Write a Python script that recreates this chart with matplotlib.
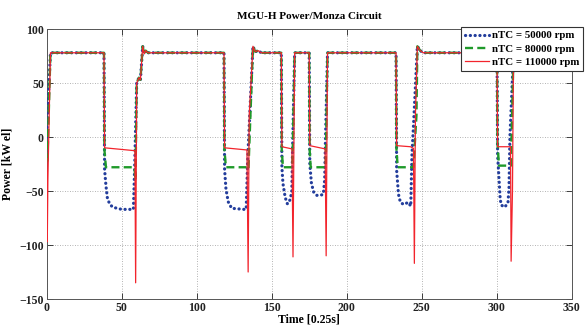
import matplotlib
matplotlib.use("Agg")
import matplotlib.pyplot as plt

# MGU-H electrical power over one Monza lap, for three turbocharger speeds
t_50k = [0, 2.5, 38.2, 38.6, 39.5, 40.5, 42, 44, 47, 50, 57.8, 58.6, 59.3, 60, 61.5, 62.5, 64, 65, 66, 67.5,
         118.2, 118.6, 119.5, 121, 123.3, 131.5, 133, 134, 137.5, 139, 141, 143,
         156.4, 156.8, 157.5, 159, 160.5, 162.3, 163.4, 164, 165.3,
         175, 175.4, 176.5, 178, 180, 182.5, 184.4, 185.3, 185.8, 187.2,
         232.9, 233.3, 234.5, 235.8, 238, 241, 242.7, 243.5, 244.5, 247.1, 249, 251,
         300.2, 300.6, 301.5, 302.3, 303, 305.3, 307.5, 308.2, 308.8, 311.2, 312]
p_50k = [0, 78, 78, -30, -45, -57, -62, -65, -66, -67, -67, -30, 10, 50, 55, 53, 84, 77, 80, 78,
         78, -30, -48, -60, -66, -67, -67, -20, 84, 79, 80, 78,
         78, -28, -43, -56, -62, -58, -50, -5, 78,
         78, -25, -43, -51, -54, -54, -53, -40, -5, 78,
         78, -31, -53, -60.5, -62.5, -60.5, -64, -16, 10, 84, 80, 78,
         78, -17, -38, -57, -63, -65, -61, -47, 0, 78, 78]

t_80k = [0, 0.5, 2.5, 38.2, 38.5, 39.5, 58.5, 59.2, 60, 61.5, 62.5, 64, 65, 66, 67.5,
         118.2, 118.5, 119.5, 133.5, 134.5, 137.5, 139, 141, 143,
         156.4, 156.7, 157.5, 163.8, 165.3,
         175, 175.3, 176, 186, 187.2,
         232.9, 233.2, 234, 244.5, 246.5, 247.1, 249, 251,
         300.2, 300.5, 301.5, 309.5, 311.2, 312]
p_80k = [-22, -22, 78, 78, -12, -28, -28, -40, 50, 55, 53, 84, 77, 80, 78,
         78, -12, -28, -28, -30, 84, 79, 80, 78,
         78, -12, -28, -28, 78,
         78, -12, -28, -28, 78,
         78, -12, -28, -28, 20, 84, 80, 78,
         78, -5, -26.5, -26.5, 78, 78]

t_110k = [0, 0.4, 0.8, 2.5,
          38.2, 38.6, 57.5, 58.8, 59.3, 60, 61.5, 62.5, 64, 65, 66, 67.5,
          118.2, 118.6, 133.5, 134.3, 135, 137.5, 139, 141, 143,
          156.4, 156.8, 163.5, 164.2, 165.3,
          175, 175.4, 185.6, 186.3, 187.2,
          232.9, 233.3, 242.5, 244.5, 245.1, 245.8, 247.1, 249, 251,
          300.2, 300.6, 309.2, 309.6, 310.5, 311.2, 312]
p_110k = [-20, -97, -40, 78,
          78, -10, -12.5, -12.5, -135, 50, 55, 53, 84, 77, 80, 78,
          78, -10, -12, -125, 20, 84, 79, 80, 78,
          78, -9, -11, -111, 78,
          78, -8, -11, -110, 78,
          78, -8, -9, -10.5, -117, 20, 84, 80, 78,
          78, -9, -9, -115, -50, 78, 78]

labels = ["nTC = 50000 rpm", "nTC = 80000 rpm", "nTC = 110000 rpm"]
x_ticks = [0, 50, 100, 150, 200, 250, 300, 350]
y_ticks = [-150, -100, -50, 0, 50, 100]

serif = ["Liberation Serif", "DejaVu Serif"]
plt.rcParams["font.family"] = serif
plt.rcParams["font.weight"] = "bold"

fig = plt.figure(figsize=(5.85, 3.26), dpi=100)
ax = fig.add_axes([0.0798, 0.0828, 0.8975, 0.8282])

h1, = ax.plot(t_50k, p_50k, linestyle=(0, (0.05, 1.45)), color="#233d9c",
              linewidth=2.3, dash_capstyle="round", label=labels[0], zorder=3)
h2, = ax.plot(t_80k, p_80k, linestyle=(0, (3.4, 1.8)), color="#1f9a2a",
              linewidth=1.7, label=labels[1], zorder=4)
h3, = ax.plot(t_110k, p_110k, linestyle="-", color="#f2242c",
              linewidth=0.9, label=labels[2], zorder=5)

ax.set_xlim(0, 350)
ax.set_ylim(-150, 100)
ax.set_xticks(x_ticks)
ax.set_yticks(y_ticks)
ax.tick_params(direction="in", top=True, right=True, length=4, width=0.6,
               labelsize=8.5, colors="#222222", pad=2)
for lab in ax.get_xticklabels() + ax.get_yticklabels():
    lab.set_fontweight("bold")
ax.grid(True, linestyle=(0, (1, 2)), color="#9a9a9a", linewidth=0.6)
for sp in ax.spines.values():
    sp.set_color("#555555")
    sp.set_linewidth(0.7)

ax.set_title("MGU-H Power/Monza Circuit", fontsize=8, fontweight="bold", pad=7)
ax.set_xlabel("Time [0.25s]", fontsize=8.5, fontweight="bold", labelpad=0)
ax.set_ylabel("Power [kW el]", fontsize=8.5, fontweight="bold", labelpad=4)

leg = ax.legend(handles=[h1, h2, h3], loc="upper right",
                bbox_to_anchor=(1.0215, 1.007), borderaxespad=0,
                frameon=True, fancybox=False,
                handlelength=2.2, handletextpad=0.3, labelspacing=0.35,
                borderpad=0.35, prop={"family": serif, "weight": "bold", "size": 7.8})
leg.get_frame().set_edgecolor("#333333")
leg.get_frame().set_linewidth(0.8)
leg.get_frame().set_alpha(1)

fig.savefig("out.png", dpi=100)
